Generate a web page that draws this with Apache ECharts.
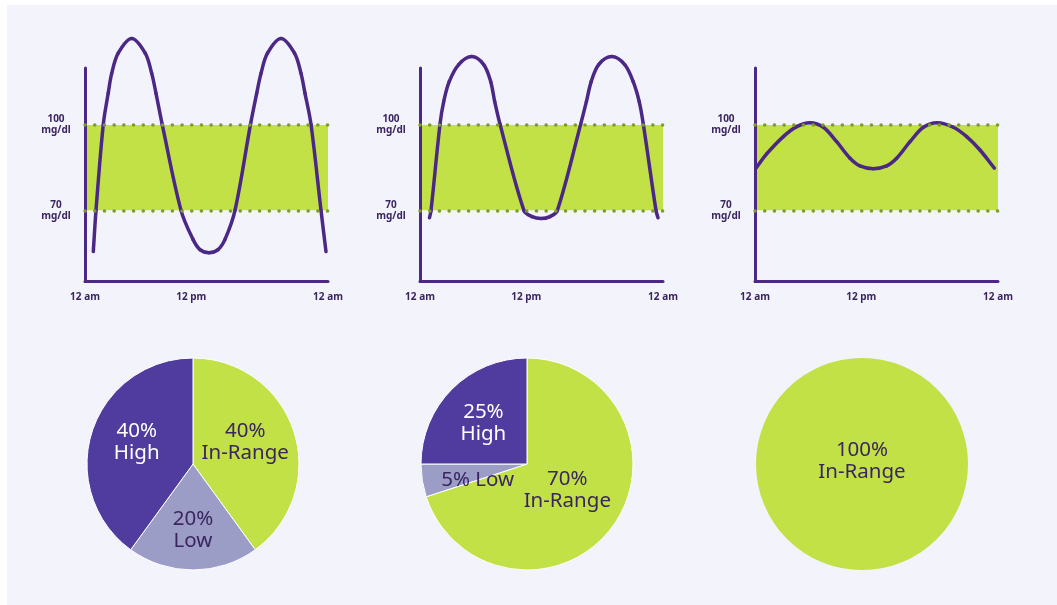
<!DOCTYPE html>
<html>
<head>
<meta charset="utf-8">
<script src="https://cdn.jsdelivr.net/npm/echarts@6/dist/echarts.min.js"></script>
<style>
  html, body { margin: 0; padding: 0; background: #ffffff; }
  #chart { width: 1057px; height: 605px; }
</style>
</head>
<body>
<div id="chart"></div>
<script>
// Glucose traces over one day: hour of day -> mg/dl
const day1Hours   = [0.82, 1.086, 1.807, 2.291, 2.637, 3.279, 4.612, 5.946, 6.588, 7.012, 7.625, 9.481, 10.667, 11.358, 12.247, 13.136, 13.827, 14.815, 16.346, 16.958, 17.383, 18.025, 19.358, 20.691, 21.333, 21.728, 22.321, 23.309, 23.802];
const day1Glucose = [55.5, 70.0, 100.2, 111.1, 118.1, 125.2, 130.4, 125.2, 118.1, 111.1, 100.2, 70.0, 59.8, 56.2, 55.1, 56.2, 59.8, 70.0, 100.2, 111.1, 118.1, 125.2, 130.4, 125.2, 118.1, 111.1, 100.2, 70.0, 55.5];

const day2Hours   = [0.938, 1.086, 1.975, 2.341, 2.884, 3.822, 5.106, 6.291, 6.983, 7.378, 7.901, 10.272, 11.062, 11.951, 12.84, 13.561, 15.872, 16.435, 16.909, 17.649, 18.933, 20.217, 21.057, 21.649, 22.054, 23.309, 23.506];
const day2Glucose = [67.4, 69.9, 100.3, 108.2, 115.2, 121.2, 124.0, 121.2, 115.2, 108.2, 100.3, 69.9, 67.8, 67.1, 67.8, 69.9, 100.3, 108.2, 115.2, 121.2, 124.0, 121.2, 115.2, 108.2, 100.3, 69.9, 67.4];

const day3Hours   = [0.099, 1.152, 2.798, 4.115, 5.432, 6.749, 8.066, 9.383, 10.37, 11.69, 13.0, 13.99, 15.31, 16.63, 18.01, 19.59, 20.91, 22.22, 23.64];
const day3Glucose = [84.8, 89.8, 95.9, 99.4, 100.8, 99.2, 94.1, 88.3, 85.6, 84.6, 85.6, 88.3, 94.1, 99.2, 100.8, 99.2, 95.9, 91.2, 84.8];

// Target range and axis ticks
const rangeLow = 70;
const rangeHigh = 100;
const yTickValues = [70, 100];
const yTickUnit = 'mg/dl';
const xTickHours = [0, 10.5, 24];
const xTickLabels = ['12 am', '12 pm', '12 am'];

// Time-in-range shares (%)
const sliceNames = ['In-Range', 'Low', 'High'];
const pie1Shares = [40, 20, 40];
const pie2Shares = [70, 5, 25];
const pie3Shares = [100];

const C = {
  panel: '#f3f3fc',
  trace: '#4b2886',
  axis: '#4b2886',
  text: '#3a2560',
  band: '#c2e147',
  dots: '#7c9c2c',
  high: '#503c9e',
  low: '#9c9dc7',
  inRange: '#c2e147'
};
const FONT = '"Noto Sans", "Open Sans", sans-serif';
const TENSION = 0.34;

const gridLefts = [85, 420, 755];
const traces = [
  [day1Hours, day1Glucose],
  [day2Hours, day2Glucose],
  [day3Hours, day3Glucose]
];

// Each data item draws the curve segment arriving at it, as a cubic Bezier whose
// control arms follow the neighbouring readings (length-weighted cardinal spline).
function traceRenderer(hrs, vals) {
  return function (params, api) {
    const k = params.dataIndex;
    if (k === 0) return null;
    const n = hrs.length;
    const P = (j) => {
      const q = Math.max(0, Math.min(n - 1, j));
      return api.coord([hrs[q], vals[q]]);
    };
    const p0 = P(k - 2), p1 = P(k - 1), p2 = P(k), p3 = P(k + 1);
    const dist = (a, b) => Math.hypot(b[0] - a[0], b[1] - a[1]) || 1e-6;
    const d01 = dist(p0, p1), d12 = dist(p1, p2), d23 = dist(p2, p3);
    const w1 = TENSION * d12 / (d01 + d12);
    const w2 = TENSION * d12 / (d12 + d23);
    const c1 = [p1[0] + (p2[0] - p0[0]) * w1, p1[1] + (p2[1] - p0[1]) * w1];
    const c2 = [p2[0] - (p3[0] - p1[0]) * w2, p2[1] - (p3[1] - p1[1]) * w2];
    return {
      type: 'bezierCurve',
      shape: { x1: p1[0], y1: p1[1], cpx1: c1[0], cpy1: c1[1], cpx2: c2[0], cpy2: c2[1], x2: p2[0], y2: p2[1] },
      style: { stroke: C.trace, lineWidth: 3.5, fill: null, lineCap: 'round', lineJoin: 'round' }
    };
  };
}

const grids = [], xAxes = [], yAxes = [], series = [];

gridLefts.forEach((left, i) => {
  grids.push({ left: left, top: 68, width: 243, height: 213.5, containLabel: false });
  xAxes.push({
    gridIndex: i, type: 'value', min: 0, max: 24, z: 4,
    axisLine: { show: true, onZero: false, lineStyle: { color: C.axis, width: 3 } },
    axisTick: { show: false },
    splitLine: { show: false },
    axisLabel: {
      customValues: xTickHours,
      formatter: (v) => xTickLabels[xTickHours.indexOf(v)],
      margin: 11, color: C.text, fontFamily: FONT, fontSize: 10, fontWeight: 'bold'
    }
  });
  yAxes.push({
    gridIndex: i, type: 'value', min: 45, max: 120, z: 4,
    axisLine: { show: true, onZero: false, lineStyle: { color: C.axis, width: 3 } },
    axisTick: { show: false },
    splitLine: { show: false },
    axisLabel: {
      customValues: yTickValues,
      formatter: (v) => v + '\n' + yTickUnit,
      align: 'center', margin: 29, lineHeight: 11,
      color: C.text, fontFamily: FONT, fontSize: 10, fontWeight: 'bold'
    }
  });

  // target band with dotted edges
  series.push({
    type: 'line', xAxisIndex: i, yAxisIndex: i, data: [], z: 1, silent: true,
    markArea: {
      silent: true,
      itemStyle: { color: C.band },
      data: [[{ xAxis: 0, yAxis: rangeLow }, { xAxis: 24, yAxis: rangeHigh }]]
    },
    markLine: {
      silent: true, symbol: 'none', label: { show: false },
      lineStyle: { color: C.dots, width: 3.5, type: [0.1, 9.6], cap: 'round', opacity: 1 },
      data: [{ yAxis: rangeLow }, { yAxis: rangeHigh }]
    }
  });

  const [hrs, vals] = traces[i];
  series.push({
    type: 'custom', coordinateSystem: 'cartesian2d',
    xAxisIndex: i, yAxisIndex: i, z: 3, clip: false, silent: true,
    data: hrs.map((h, k) => [h, vals[k]]),
    renderItem: traceRenderer(hrs, vals)
  });
});

const sliceColor = { 'In-Range': C.inRange, 'Low': C.low, 'High': C.high };
const labelColor = { 'In-Range': C.text, 'Low': C.text, 'High': '#ffffff' };

function pieData(shares) {
  return shares.map((v, k) => ({
    name: sliceNames[k], value: v,
    itemStyle: { color: sliceColor[sliceNames[k]] },
    label: { color: labelColor[sliceNames[k]] }
  }));
}

// label nudges (px) per slice, in slice order
const labelNudges = [
  [[-1, -5], [0, 10], [-3, -5]],
  [[-5, -7], [6, 7], [-4, -1]],
  [[0, -3]]
];

const pieCenters = [193, 527, 862];
[pie1Shares, pie2Shares, pie3Shares].forEach((shares, i) => {
  const single = shares.length === 1;
  series.push({
    type: 'pie', center: [pieCenters[i], 464], radius: 106,
    startAngle: 90, clockwise: true, silent: true,
    itemStyle: { borderColor: '#ffffff', borderWidth: single ? 0 : 1 },
    label: {
      show: true, position: single ? 'center' : 'inside',
      fontFamily: FONT, fontSize: 20.5, lineHeight: 22,
      formatter: (p) => p.value < 10 ? p.value + '% ' + p.name : p.value + '%\n' + p.name
    },
    labelLayout: (p) => {
      const n = labelNudges[i][p.dataIndex] || [0, 0];
      return { dx: n[0], dy: n[1] };
    },
    labelLine: { show: false },
    emphasis: { disabled: true },
    data: pieData(shares)
  });
});

const chart = echarts.init(document.getElementById('chart'), null, { renderer: 'canvas' });
chart.setOption({
  animation: false,
  backgroundColor: '#ffffff',
  graphic: [{
    type: 'rect', z: -10, silent: true,
    shape: { x: 7, y: 5, width: 1050, height: 600 },
    style: { fill: C.panel }
  }],
  grid: grids,
  xAxis: xAxes,
  yAxis: yAxes,
  series: series
});
</script>
</body>
</html>
